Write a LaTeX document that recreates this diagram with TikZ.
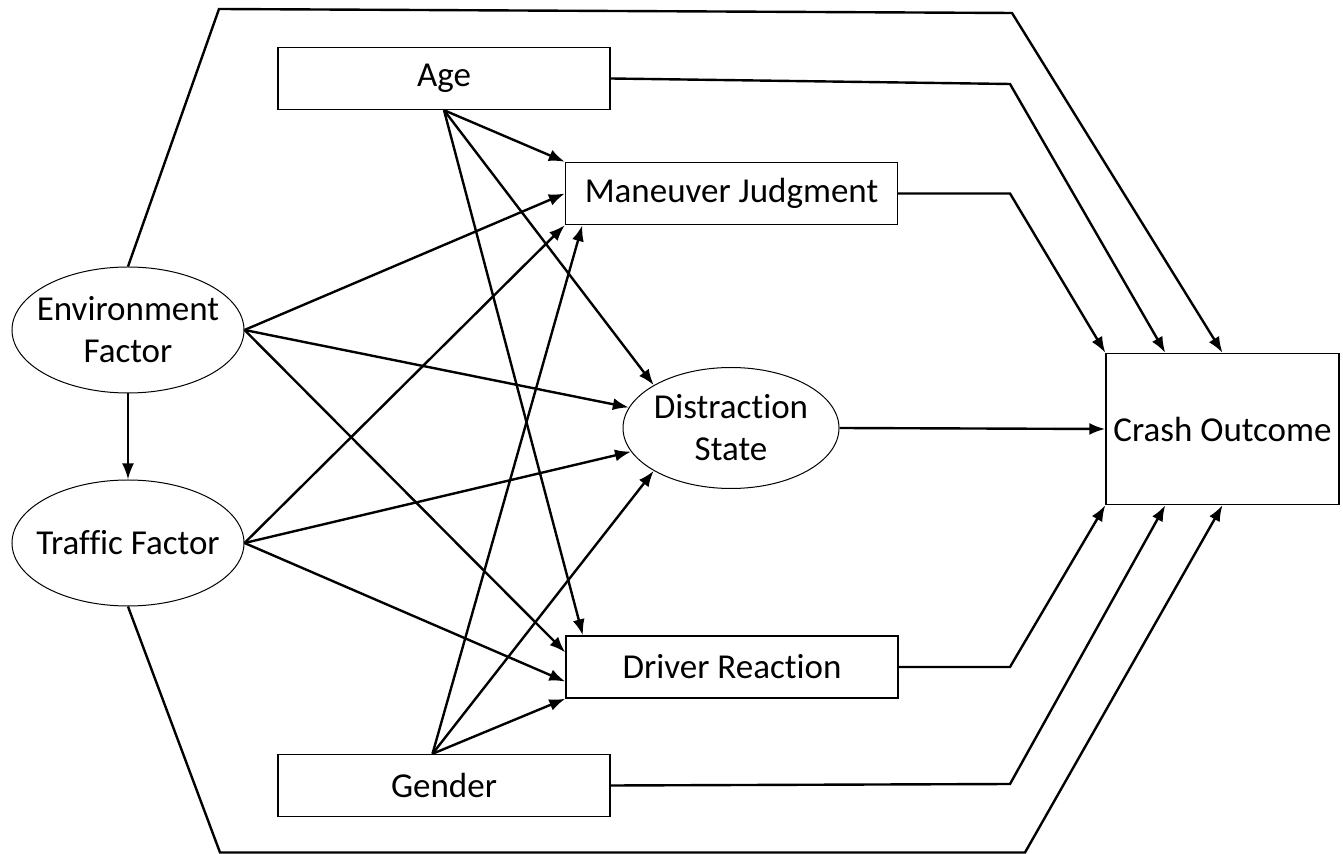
\documentclass[tikz,border=0pt]{standalone}
\usepackage{fontspec}
\setmainfont[Ligatures=NoCommon]{Carlito}
\usetikzlibrary{shapes.geometric,arrows.meta}

\begin{document}
\begin{tikzpicture}[x=0.5pt, y=-0.5pt, line width=1.2pt,
    every node/.style={font=\fontsize{17.5}{21}\selectfont, align=center},
    box/.style={draw, line width=0.7pt, rectangle, minimum width=166pt, minimum height=31pt, inner sep=0pt},
    oval/.style={draw, line width=0.5pt, ellipse, inner sep=0pt, inner xsep=-8pt},
    arr/.style={-{Latex[length=8pt,width=6pt]}}]
    \useasboundingbox (0,0) rectangle (1343,854);

    % Variables
    \node[oval, minimum width=116pt, minimum height=63pt] (env) at (128,330) {Environment\\Factor};
    \node[oval, minimum width=116pt, minimum height=63pt] (traffic) at (128,543) {Traffic Factor};
    \node[box] (age) at (444,78.5) {Age};
    \node[box] (gender) at (444,785.5) {Gender};
    \node[box] (judg) at (731.5,193.5) {Maneuver Judgment};
    \node[box] (driver) at (732,667) {Driver Reaction};
    \node[oval, minimum width=108pt, minimum height=60.5pt] (distr) at (731,428) {Distraction\\State};
    \node[draw, line width=0.7pt, rectangle, minimum width=116.5pt, minimum height=75.5pt, inner sep=0pt] (crash) at (1222.5,429) {Crash Outcome};

    % Liens vers les variables intermediaires
    \draw[arr] (env.south) -- (traffic.north);
    \foreach \t in {judg.west, distr, driver.175} { \draw[arr] (env.east) -- (\t); }
    \foreach \t in {judg.south west, distr, driver.185} { \draw[arr] (traffic.east) -- (\t); }
    \foreach \t in {judg.north west, distr.151, driver.168} { \draw[arr] (age.south) -- (\t); }
    \foreach \t in {judg.192, distr.209, driver.south west} { \draw[arr] (gender.110) -- (\t); }

    % Liens vers Crash Outcome
    \draw[arr] (env.north) -- (219,9) -- (1012,13) -- (crash.north);
    \draw[arr] (age.east) -- (1010,84) -- ([xshift=30pt]crash.north west);
    \draw[arr] (judg.east) -- (1010,193.5) -- (crash.north west);
    \draw[arr] (distr.east) -- (crash.west);
    \draw[arr] (driver.east) -- (1010,667) -- (crash.south west);
    \draw[arr] (gender.east) -- (1010,784) -- ([xshift=30pt]crash.south west);
    \draw[arr] (traffic.south) -- (220,852.5) -- (1025,852.5) -- (crash.south);
\end{tikzpicture}
\end{document}
